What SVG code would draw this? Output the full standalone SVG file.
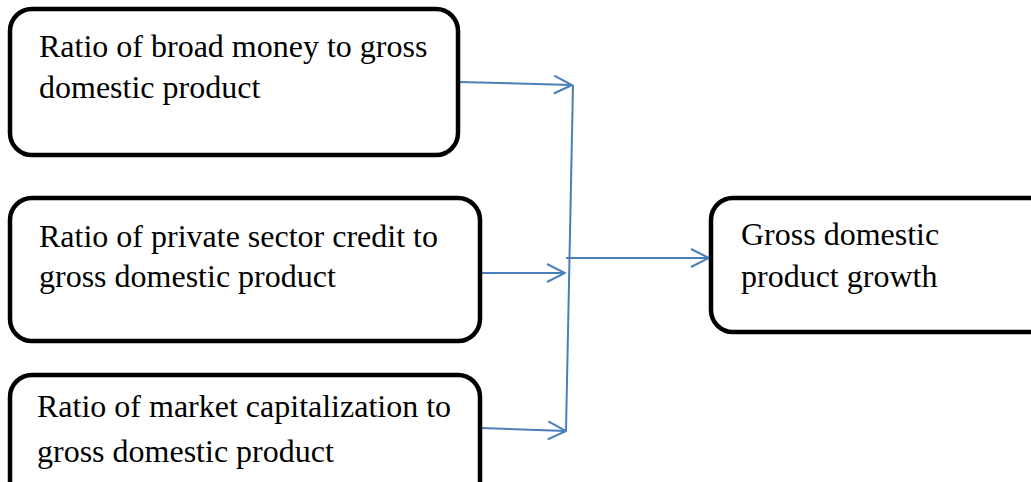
<svg xmlns="http://www.w3.org/2000/svg" width="1031" height="482" viewBox="0 0 1031 482">
<defs>
<style>
.box{fill:#fff;stroke:#000;stroke-width:4.5}
.t{font-family:"Liberation Serif","Times New Roman",serif;font-size:32px;fill:#000}
.c{stroke:#4a7ebb;stroke-width:2;fill:none}
</style>
<marker id="ah" viewBox="0 0 20 20" refX="19" refY="10" markerWidth="20" markerHeight="20" markerUnits="userSpaceOnUse" orient="auto">
<path d="M1,1 L19,10 L1,19" fill="none" stroke="#4a7ebb" stroke-width="2"/>
</marker>
</defs>
<rect width="1031" height="482" fill="#fff"/>
<g id="connectors">
<line class="c" x1="459" y1="82" x2="572" y2="85" marker-end="url(#ah)"/>
<line class="c" x1="481" y1="273" x2="565" y2="273" marker-end="url(#ah)"/>
<line class="c" x1="481" y1="428" x2="566" y2="431" marker-end="url(#ah)"/>
<line class="c" x1="573" y1="85" x2="566" y2="431"/>
<line class="c" x1="566" y1="258" x2="709" y2="258" marker-end="url(#ah)"/>
</g>
<g id="node1">
<rect class="box" x="10" y="9" width="448" height="146" rx="22"/>
<text class="t" x="39" y="57">Ratio of broad money to gross</text>
<text class="t" x="39" y="98">domestic product</text>
</g>
<g id="node2">
<rect class="box" x="10" y="198" width="470" height="143" rx="22"/>
<text class="t" x="39" y="247">Ratio of private sector credit to</text>
<text class="t" x="39" y="287">gross domestic product</text>
</g>
<g id="node3">
<rect class="box" x="10" y="375" width="470" height="140" rx="22"/>
<text class="t" x="37" y="417">Ratio of market capitalization to</text>
<text class="t" x="37" y="462">gross domestic product</text>
</g>
<g id="node4">
<rect class="box" x="711" y="198" width="345" height="134" rx="22"/>
<text class="t" x="741" y="245">Gross domestic</text>
<text class="t" x="741" y="287">product growth</text>
</g>
</svg>
